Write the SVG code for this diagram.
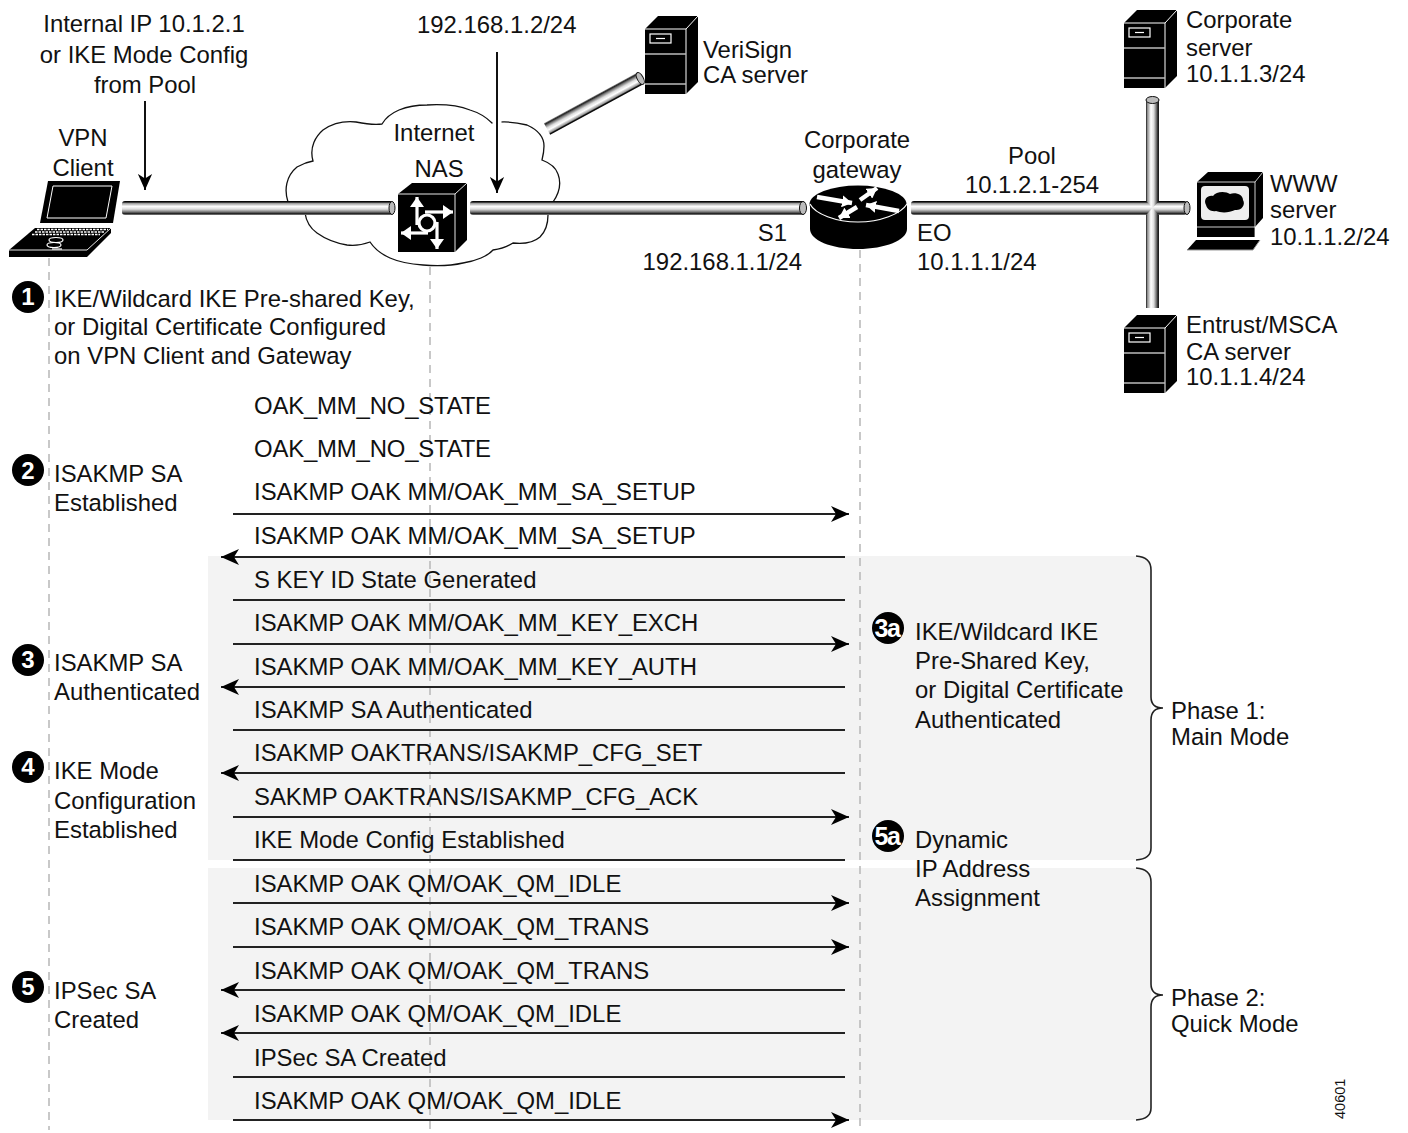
<svg xmlns="http://www.w3.org/2000/svg" width="1408" height="1133" viewBox="0 0 1408 1133">
<style>
text{font-family:"Liberation Sans",Arial,sans-serif;font-size:23.9px;fill:#111}
.m{text-anchor:middle}
.e{text-anchor:end}
.dash{stroke:#bbb;stroke-width:1.6;stroke-dasharray:8 6;fill:none}
.seq{stroke:#222;stroke-width:2;fill:none}
.brace{stroke:#222;stroke-width:1.6;fill:none}
.band{fill:#f3f3f3}
.bk{fill:#000}
.wl{stroke:#fff;stroke-width:1.2;fill:none}
.wa{stroke:#fff;stroke-width:3.2;fill:none;marker-end:url(#wh)}
.wr{stroke:#fff;stroke-width:4.5;fill:none;marker-end:url(#wr)}
.cap{fill:#bbb;stroke:#111;stroke-width:1}
.bw{fill:#fff;font-weight:bold;text-anchor:middle;font-size:24px}
.bw2{fill:#fff;font-weight:bold;text-anchor:middle;font-size:25px;letter-spacing:-1.5px}
</style>
<defs>
<linearGradient id="h" x1="0" y1="0" x2="0" y2="1">
<stop offset="0" stop-color="#000"/><stop offset=".08" stop-color="#111"/><stop offset=".16" stop-color="#999"/><stop offset=".38" stop-color="#fff"/><stop offset=".58" stop-color="#ddd"/><stop offset=".78" stop-color="#777"/><stop offset=".9" stop-color="#222"/><stop offset="1" stop-color="#888"/>
</linearGradient>
<linearGradient id="v" x1="0" y1="0" x2="1" y2="0">
<stop offset="0" stop-color="#111"/><stop offset=".1" stop-color="#888"/><stop offset=".38" stop-color="#fff"/><stop offset=".6" stop-color="#ddd"/><stop offset=".82" stop-color="#666"/><stop offset=".94" stop-color="#111"/><stop offset="1" stop-color="#333"/>
</linearGradient>
<marker id="ar" viewBox="0 0 18 16" refX="18" refY="8" markerWidth="18" markerHeight="16" markerUnits="userSpaceOnUse" orient="auto"><path d="M0,0 L18,8 L0,16 L5,8z" fill="#000"/></marker>
<marker id="ad" viewBox="0 0 18 16" refX="18" refY="8" markerWidth="16" markerHeight="15" markerUnits="userSpaceOnUse" orient="auto"><path d="M0,0 L18,8 L0,16 L5,8z" fill="#000"/></marker>
<marker id="wh" viewBox="0 0 10 14" refX="10" refY="7" markerWidth="10" markerHeight="14" markerUnits="userSpaceOnUse" orient="auto"><path d="M0,0 L10,7 L0,14z" fill="#fff"/></marker>
<marker id="wr" viewBox="0 0 10 12" refX="10" refY="6" markerWidth="10" markerHeight="12" markerUnits="userSpaceOnUse" orient="auto"><path d="M0,0 L10,6 L0,12z" fill="#fff"/></marker>
<symbol id="srv" width="60" height="85" viewBox="0 0 60 85" overflow="visible">
<path class="bk" d="M0,13 L13,0 H53 V66 L41,78 H0z"/>
<path d="M0,13 H41 M41,13 L53,0 M41,13 V78" stroke="#fff" stroke-width="1" fill="none"/>
<rect x="5" y="18" width="21" height="9" fill="none" stroke="#fff" stroke-width="1.2"/>
<path d="M11,22.5 H20" stroke="#fff" stroke-width="1.2"/>
<path d="M0,38 H41 M0,68 H41" stroke="#bbb" stroke-width="1.3"/>
</symbol>
</defs>
<rect width="1408" height="1133" fill="#fff"/>
<g id="bands">
<path class="band" d="M208,556 H1136 Q1151,557 1151,570 V848 Q1151,859 1136,860 H208z"/>
<path class="band" d="M208,868 H1136 Q1151,869 1151,882 V1108 Q1151,1119 1136,1120 H208z"/>
</g>
<g id="lifelines">
<path class="dash" d="M49,258 V1130"/>
<path class="dash" d="M430,253 V1130"/>
<path class="dash" d="M860,250 V1130"/>
</g>
<g id="cloud">
<path d="M288,202 C284,190 286,176 297,167 C302,164 307,162 313,161 C309,147 316,136 323,130 C333,123 346,121 356,122 C366,124 374,125 382,124 C386,117 392,113 399,110 C409,106 418,105 427,105 C445,104 460,106 470,110 C480,113 487,118 492,123 C503,121 515,122 527,125 C538,130 544,137 544,146 C544,151 543,156 542,160 C550,163 556,168 558,174 C561,182 560,192 553,202 C552,208 551,212 548,215 C548,224 545,232 540,237 C533,243 522,244 513,243 C507,247 500,249 493,250 C488,256 476,261 463,263 C450,266 436,266 423,265 C410,264 399,262 390,258 C381,254 374,248 370,242 C362,245 354,246 347,245 C335,243 324,238 317,233 C310,228 306,220 305,213 C298,211 291,208 288,202z" fill="#fff" stroke="#111" stroke-width="1.3"/>
<path d="M497,118 V127" stroke="#fff" stroke-width="9"/>
</g>
<g id="connectors">
<rect x="122" y="201" width="271" height="14" rx="3" fill="url(#h)"/>
<ellipse class="cap" cx="392" cy="208" rx="3" ry="6.5"/>
<rect x="470" y="201" width="335" height="14" rx="3" fill="url(#h)"/>
<ellipse class="cap" cx="803" cy="208" rx="3.5" ry="6.5"/>
<rect x="911" y="201" width="276" height="14" rx="3" fill="url(#h)"/>
<ellipse class="cap" cx="1187" cy="208" rx="3" ry="6.5"/>
<polygon points="1146,99 1159,99 1159,201 1152.500,208 1146,201" fill="url(#v)"/>
<polygon points="1146,215 1152.500,208 1159,215 1159,308 1146,308" fill="url(#v)"/>
<ellipse class="cap" cx="1152.500" cy="100" rx="6.500" ry="3.500"/>
<g transform="translate(640,78) rotate(151.5)"><rect x="0" y="-7" width="106" height="13" fill="url(#h)"/><ellipse class="cap" cx="0" cy="-.5" rx="3" ry="6.5"/></g>
<path d="M145,101 V190" stroke="#111" stroke-width="2" marker-end="url(#ad)"/>
<path d="M497,52 V193" stroke="#111" stroke-width="2" marker-end="url(#ad)"/>
<path class="seq" marker-end="url(#ar)" d="M233,514 H849"/>
<path class="seq" marker-end="url(#ar)" d="M845,557 H221"/>
<path class="seq" d="M233,600 H845"/>
<path class="seq" marker-end="url(#ar)" d="M233,644 H849"/>
<path class="seq" marker-end="url(#ar)" d="M845,687 H221"/>
<path class="seq" d="M233,730 H845"/>
<path class="seq" marker-end="url(#ar)" d="M845,773 H221"/>
<path class="seq" marker-end="url(#ar)" d="M233,817 H849"/>
<path class="seq" d="M233,860 H845"/>
<path class="seq" marker-end="url(#ar)" d="M233,903 H849"/>
<path class="seq" marker-end="url(#ar)" d="M233,947 H849"/>
<path class="seq" marker-end="url(#ar)" d="M845,990 H221"/>
<path class="seq" marker-end="url(#ar)" d="M845,1033 H221"/>
<path class="seq" d="M233,1077 H845"/>
<path class="seq" marker-end="url(#ar)" d="M233,1120 H849"/>
<path class="brace" d="M1136,556 Q1151,557 1151,570 V697 Q1151,708 1163,708 Q1151,708 1151,720 V848 Q1151,859 1136,860"/>
<path class="brace" d="M1136,868 Q1151,869 1151,882 V984 Q1151,995 1163,995 Q1151,995 1151,1007 V1108 Q1151,1119 1136,1120"/>
</g>
<g id="laptop">
<path class="bk" d="M48,181 H120 L113,223 H40z"/>
<path d="M53,186 H112 L106,218 H47z" fill="none" stroke="#fff" stroke-width="1"/>
<path class="bk" d="M35,228 H111 V233 L87,257 H9 V250z"/>
<path d="M37,229.500 H108 M35,232 H104 M32,234.500 H100" stroke="#fff" stroke-width="1.3" stroke-dasharray="2.500 1" fill="none"/>
<path d="M9,250 H87 L111,228" stroke="#fff" stroke-width=".9" fill="none"/>
<ellipse cx="56" cy="240" rx="7" ry="2.500" class="wl"/>
<ellipse cx="54" cy="245" rx="7" ry="2.500" class="wl"/>
<path d="M52,249 H62" class="wl"/>
</g>
<g id="nas">
<path class="bk" d="M398,194 L412,183 H467 V240 L455,252 H398z"/>
<path d="M398,194 H455 V252 M455,194 L467,183" stroke="#fff" stroke-width=".9" fill="none"/>
<path class="wa" d="M417,225 V197"/>
<path class="wa" d="M425,212 H453"/>
<path class="wa" d="M437,222 V249"/>
<path class="wa" d="M428,233 H401"/>
<circle cx="427" cy="223" r="8" fill="#000" stroke="#fff" stroke-width="3.2"/>
</g>
<g id="verisign"><use href="#srv" x="645" y="16"/></g>
<g id="gateway">
<path class="bk" d="M810,204 V229 C810,240 831,249 858,249 C885,249 907,240 907,229 V204z"/>
<ellipse cx="858" cy="204" rx="48.500" ry="18.500" fill="#000"/>
<path d="M810,204 C815,214 836,222 858,222 C880,222 901,214 907,204" stroke="#fff" stroke-width="1.2" fill="none"/>
<path class="wr" d="M817,197 L852,203"/>
<path class="wr" d="M860,200 L877,188"/>
<path class="wr" d="M899,211 L866,205"/>
<path class="wr" d="M857,207 L839,218"/>
</g>
<g id="corporate-server"><use href="#srv" x="1124" y="10"/></g>
<g id="entrust"><use href="#srv" x="1124" y="315"/></g>
<g id="www">
<path class="bk" d="M1197,182 L1208,172 H1263 V218 L1255,227 V237 H1197z"/>
<path d="M1255,182 L1263,172 M1197,227 H1255 M1197,182 H1255 V237" stroke="#fff" stroke-width=".8" fill="none"/>
<rect x="1201" y="186" width="48" height="34" rx="4" fill="#eee"/>
<path class="bk" d="M1206,205 C1203,199 1208,195 1213,196 C1216,191 1226,191 1230,194 C1236,192 1243,195 1243,200 C1246,205 1241,211 1235,210 C1229,213 1221,213 1216,211 C1211,212 1207,209 1206,205z"/>
<path class="bk" d="M1187,250 L1196,240 H1260 L1253,250z"/>
<path d="M1187,250 H1253 L1260,240" stroke="#999" stroke-width="1" fill="none"/>
</g>
<g id="badges">
<circle class="bk" cx="28" cy="297" r="16"/><text class="bw" x="28" y="305">1</text>
<circle class="bk" cx="28" cy="470" r="16"/><text class="bw" x="28" y="479">2</text>
<circle class="bk" cx="28" cy="660" r="16"/><text class="bw" x="28" y="668">3</text>
<circle class="bk" cx="28" cy="767" r="16"/><text class="bw" x="28" y="775">4</text>
<circle class="bk" cx="28" cy="987" r="16"/><text class="bw" x="28" y="995">5</text>
<circle class="bk" cx="888" cy="628" r="16"/><text class="bw2" x="887" y="637">3a</text>
<circle class="bk" cx="888" cy="836" r="16"/><text class="bw2" x="887" y="845">5a</text>
</g>
<g id="labels">
<text class="m" x="144" y="32">Internal IP 10.1.2.1</text>
<text class="m" x="144" y="63">or IKE Mode Config</text>
<text class="m" x="145" y="93">from Pool</text>
<text x="417" y="33">192.168.1.2/24</text>
<text x="703" y="58">VeriSign</text>
<text x="703" y="83">CA server</text>
<text x="1186" y="28">Corporate</text>
<text x="1186" y="56">server</text>
<text x="1186" y="82">10.1.1.3/24</text>
<text class="m" x="83" y="146">VPN</text>
<text class="m" x="83" y="176">Client</text>
<text class="m" x="434" y="141">Internet</text>
<text class="m" x="439" y="177">NAS</text>
<text class="m" x="857" y="148">Corporate</text>
<text class="m" x="857" y="178">gateway</text>
<text class="m" x="1032" y="164">Pool</text>
<text class="m" x="1032" y="193">10.1.2.1-254</text>
<text class="e" x="787" y="241">S1</text>
<text class="e" x="802" y="270">192.168.1.1/24</text>
<text x="917" y="241">EO</text>
<text x="917" y="270">10.1.1.1/24</text>
<text x="1270" y="192">WWW</text>
<text x="1270" y="218">server</text>
<text x="1270" y="245">10.1.1.2/24</text>
<text x="1186" y="333">Entrust/MSCA</text>
<text x="1186" y="360">CA server</text>
<text x="1186" y="385">10.1.1.4/24</text>
<text x="54" y="307">IKE/Wildcard IKE Pre-shared Key,</text>
<text x="54" y="335">or Digital Certificate Configured</text>
<text x="54" y="364">on VPN Client and Gateway</text>
<text x="54" y="482">ISAKMP SA</text>
<text x="54" y="511">Established</text>
<text x="54" y="671">ISAKMP SA</text>
<text x="54" y="700">Authenticated</text>
<text x="54" y="779">IKE Mode</text>
<text x="54" y="809">Configuration</text>
<text x="54" y="838">Established</text>
<text x="54" y="999">IPSec SA</text>
<text x="54" y="1028">Created</text>
<text x="915" y="640">IKE/Wildcard IKE</text>
<text x="915" y="669">Pre-Shared Key,</text>
<text x="915" y="698">or Digital Certificate</text>
<text x="915" y="728">Authenticated</text>
<text x="915" y="848">Dynamic</text>
<text x="915" y="877">IP Address</text>
<text x="915" y="906">Assignment</text>
<text x="1171" y="719">Phase 1:</text>
<text x="1171" y="745">Main Mode</text>
<text x="1171" y="1006">Phase 2:</text>
<text x="1171" y="1032">Quick Mode</text>
<text x="254" y="414" textLength="237">OAK_MM_NO_STATE</text>
<text x="254" y="457" textLength="237">OAK_MM_NO_STATE</text>
<text x="254" y="500">ISAKMP OAK MM/OAK_MM_SA_SETUP</text>
<text x="254" y="544">ISAKMP OAK MM/OAK_MM_SA_SETUP</text>
<text x="254" y="588">S KEY ID State Generated</text>
<text x="254" y="631">ISAKMP OAK MM/OAK_MM_KEY_EXCH</text>
<text x="254" y="675">ISAKMP OAK MM/OAK_MM_KEY_AUTH</text>
<text x="254" y="718">ISAKMP SA Authenticated</text>
<text x="254" y="761">ISAKMP OAKTRANS/ISAKMP_CFG_SET</text>
<text x="254" y="805">SAKMP OAKTRANS/ISAKMP_CFG_ACK</text>
<text x="254" y="848">IKE Mode Config Established</text>
<text x="254" y="892">ISAKMP OAK QM/OAK_QM_IDLE</text>
<text x="254" y="935">ISAKMP OAK QM/OAK_QM_TRANS</text>
<text x="254" y="979">ISAKMP OAK QM/OAK_QM_TRANS</text>
<text x="254" y="1022">ISAKMP OAK QM/OAK_QM_IDLE</text>
<text x="254" y="1066">IPSec SA Created</text>
<text x="254" y="1109">ISAKMP OAK QM/OAK_QM_IDLE</text>
<text transform="translate(1345,1119) rotate(-90)" style="font-size:14.5px">40601</text>
</g>
</svg>
